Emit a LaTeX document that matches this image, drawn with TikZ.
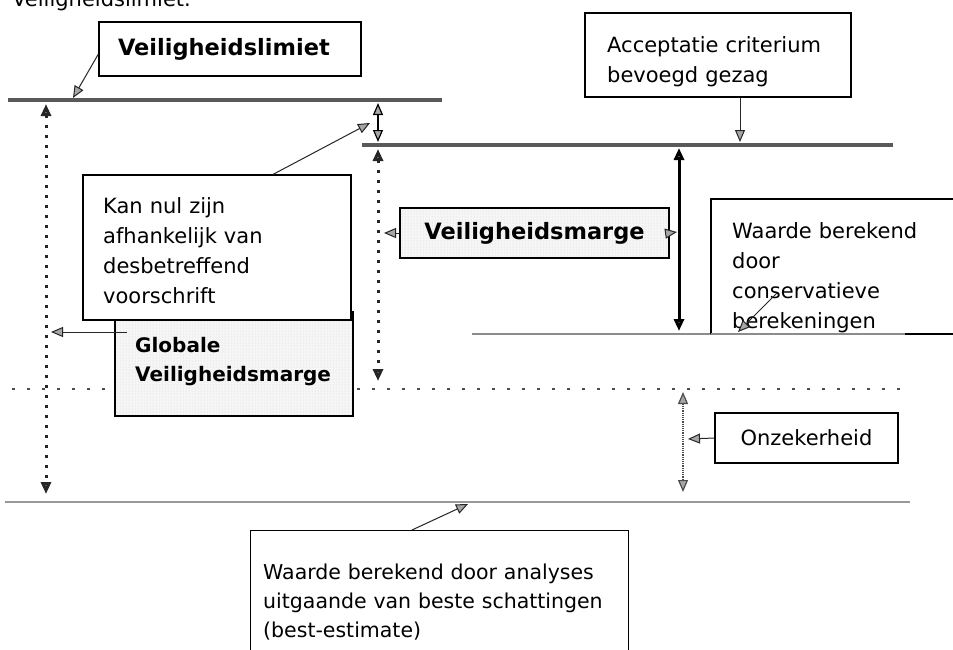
\documentclass[tikz,border=0pt]{standalone}
\usepackage{fontspec}
\setmainfont{DejaVu Sans}
\usetikzlibrary{arrows.meta,patterns,calc}
\begin{document}
\begin{tikzpicture}[x=1pt,y=-1pt,
  every node/.style={font=\fontsize{21}{30}\selectfont, inner sep=0pt},
  box/.style={draw=black, line width=1.2pt, fill=white},
  shadebox/.style={draw=black, line width=1.2pt, preaction={fill=gray!7}, pattern=dots, pattern color=gray!35},
  bold/.style={font=\bfseries\fontsize{22.5}{26}\selectfont},
  ahead/.style={-{Triangle[length=12pt,width=10pt,fill=gray!70]}},
  dhead/.style={{Triangle[length=12pt,width=10pt,fill=gray!70]}-{Triangle[length=12pt,width=10pt,fill=gray!70]}},
  ptr/.style={line width=1pt, draw=black!85, ahead},
  lvl/.style={line width=4pt, draw=black!65},
  dotv/.style={line width=3pt, draw=black!85, dash pattern=on 3pt off 7pt},
]
\clip (0,0) rectangle (953,649);
\fill[white] (0,0) rectangle (953,649);

% clipped heading text
\node[anchor=base west, font=\fontsize{21}{25}\selectfont] (toptext) at (12,6) {Veiligheidslimiet.};

% level lines
\draw[lvl] (8,100) -- (442,100);
\draw[line width=3.5pt, draw=black!65] (362,145) -- (893,145);
\draw[line width=2.4pt, draw=black!45] (472,334) -- (905,334);
\draw[line width=2.5pt, draw=black!70, dash pattern=on 2.5pt off 12.5pt] (12,389) -- (907,389);
\draw[line width=2.8pt, draw=black!40] (5,502) -- (910,502);

% conservatieve box outline
\coordinate (c1) at (953,199);
\coordinate (c2) at (711,199);
\coordinate (c3) at (711,334);
\coordinate (c4) at (905,334);
\coordinate (c5) at (953,334);
\fill[white] (c2) rectangle ($(c5)+(0,-1.5)$);
\draw[line width=1.2pt] (c1) -- (c2) -- (c3);
\draw[line width=1.2pt] (c4) -- (c5);
\draw[line width=2.4pt, draw=black!45] (c3) -- (c4);

% vertical margin arrows
\coordinate (a1t) at (46,104);
\coordinate (a1b) at (46,494);
\draw[dotv, dhead] (a1t) -- (a1b);
\coordinate (a2t) at (378,103);
\coordinate (a2b) at (378,142);
\draw[line width=1.2pt, dhead] (a2t) -- (a2b);
\coordinate (a3t) at (378,149);
\coordinate (a3b) at (378,381);
\draw[dotv, dhead] (a3t) -- (a3b);
\coordinate (a4t) at (679,148);
\coordinate (a4b) at (679,331);
\draw[line width=3pt, dhead] (a4t) -- (a4b);
\coordinate (a5t) at (683,392);
\coordinate (a5b) at (683,492);
\draw[line width=1.2pt, densely dotted, draw=black!70, dhead] (a5t) -- (a5b);

% boxes
\node[box, minimum width=262pt, minimum height=54pt, text width=224pt, inner xsep=19pt, align=left, bold] (b1) at (230,49) {Veiligheidslimiet};
\node[box, minimum width=266pt, minimum height=84pt] (b2) at (718,55) {};
\node[anchor=north west, text width=230pt, align=left] (b2t) at (607,36.5) {Acceptatie criterium\\bevoegd gezag};
\node[shadebox, minimum width=238pt, minimum height=104pt] (b4) at (234,364) {};
\node[anchor=north west, text width=210pt, align=left, font=\bfseries\fontsize{20}{29}\selectfont] (b4t) at (135,337) {Globale\\Veiligheidsmarge};
\node[box, minimum width=268pt, minimum height=145pt] (b3) at (217,247.5) {};
\node[anchor=north west, text width=228pt, align=left] (b3t) at (103,197) {Kan nul zijn\\afhankelijk van\\desbetreffend\\voorschrift};
\node[shadebox, minimum width=269pt, minimum height=50pt, bold] (b5) at (534.5,233) {Veiligheidsmarge};
\node[anchor=north west, text width=215pt, align=left] (cons) at (732,222) {Waarde berekend\\door\\conservatieve\\berekeningen};
\node[box, minimum width=183pt, minimum height=50pt] (b7) at (806.5,438) {Onzekerheid};
\node[box, anchor=north west, minimum width=378pt, minimum height=150pt] (b8) at (250,530) {};
\node[anchor=north west, text width=360pt, align=left, font=\fontsize{20.5}{29}\selectfont] (b8t) at (263,564) {Waarde berekend door analyses\\uitgaande van beste schattingen\\(best-estimate)};

% pointer arrows
\coordinate (p1e) at (73,98);
\draw[ptr] ($(b1.west)+(0,5)$) -- (p1e);
\coordinate (p2e) at (740,142);
\draw[ptr] ($(b2.south)+(22,0)$) -- (p2e);
\coordinate (p3e) at (370,123);
\draw[ptr] ($(b3.north)+(56,0)$) -- (p3e);
\coordinate (p4e) at (51,332);
\draw[ptr] ($(b4.west)+(13,-32)$) -- (p4e);
\coordinate (p5e) at (384,233);
\draw[ptr] (b5.west) -- (p5e);
\coordinate (p6e) at (677,232);
\draw[ptr] (b5.east) -- (p6e);
\coordinate (p7e) at (738,332);
\draw[ptr] ($(cons.north west)+(45,71)$) -- (p7e);
\coordinate (p8e) at (688,439);
\draw[ptr] (b7.west) -- (p8e);
\coordinate (p9e) at (468,504);
\draw[ptr] ($(b8.north west)+(162,0)$) -- (p9e);
\end{tikzpicture}
\end{document}
